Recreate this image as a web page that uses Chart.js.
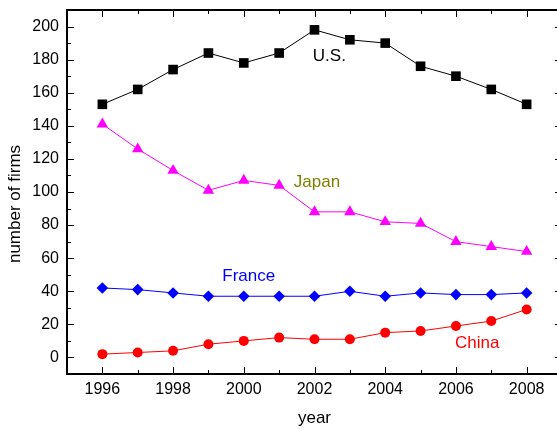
<!DOCTYPE html>
<html>
<head>
<meta charset="utf-8">
<script src="https://cdn.jsdelivr.net/npm/chart.js@4.4.0/dist/chart.umd.min.js"></script>
<style>
  html, body { margin: 0; padding: 0; background: #fff; overflow: hidden; }
</style>
</head>
<body>
<canvas id="chart" width="557" height="429"></canvas>
<script>
// datos
const years = [1996, 1997, 1998, 1999, 2000, 2001, 2002, 2003, 2004, 2005, 2006, 2007, 2008];
const us     = [153, 162, 174, 184, 178, 184, 198, 192, 190, 176, 170, 162, 153];
const japan  = [141, 126, 113, 101, 107, 104, 88, 88, 82, 81, 70, 67, 64];
const france = [42, 41, 39, 37, 37, 37, 37, 40, 37, 39, 38, 38, 39];
const china  = [2, 3, 4, 8, 10, 12, 11, 11, 15, 16, 19, 22, 29];

// etiquetas de cada serie (en coordenadas de datos)
const etiquetas = [
  { text: 'U.S.',   x: 2002.42, y: 182, color: '#000000' },
  { text: 'Japan',  x: 2002.07, y: 106, color: '#808000' },
  { text: 'France', x: 2000.14, y: 49,  color: '#0000ff' },
  { text: 'China',  x: 2006.6,  y: 8.5, color: '#ff0000' }
];

const fuente = '"Liberation Sans", Arial, sans-serif';

const toXY = vals => vals.map((v, i) => ({ x: years[i], y: v }));

// marco, marcas hacia adentro y textos
const marcoPlugin = {
  id: 'marco',
  afterLayout(chart) {
    // el borde derecho del original queda recortado fuera de la imagen
    const a = chart.chartArea;
    const x = chart.scales.x;
    a.right = 562;
    a.width = a.right - a.left;
    x.right = 562;
    x.width = x.right - x.left;
    x.configure();
  },
  beforeDatasetsDraw(chart) {
    const { ctx, chartArea: a, scales } = chart;
    ctx.save();
    ctx.strokeStyle = '#000';
    ctx.lineWidth = 1;
    for (let yr = 1995; yr <= 2009; yr++) {
      const px = Math.round(scales.x.getPixelForValue(yr)) + 0.5;
      const len = yr % 2 === 0 ? 7 : 4;
      ctx.beginPath();
      ctx.moveTo(px, a.bottom); ctx.lineTo(px, a.bottom - len);
      ctx.moveTo(px, a.top); ctx.lineTo(px, a.top + len);
      ctx.stroke();
    }
    for (let v = -10; v <= 210; v += 10) {
      const py = Math.round(scales.y.getPixelForValue(v)) + 0.5;
      const len = v % 20 === 0 ? 7 : 4;
      ctx.beginPath();
      ctx.moveTo(a.left, py); ctx.lineTo(a.left + len, py);
      ctx.moveTo(a.right, py); ctx.lineTo(a.right - len, py);
      ctx.stroke();
    }
    ctx.lineWidth = 2;
    ctx.strokeRect(a.left, a.top, a.right - a.left, a.bottom - a.top);
    ctx.restore();
  },
  afterDatasetsDraw(chart) {
    const { ctx, chartArea: a, scales } = chart;
    ctx.save();
    ctx.font = '17px ' + fuente;
    ctx.textAlign = 'center';
    ctx.textBaseline = 'middle';
    etiquetas.forEach(e => {
      ctx.fillStyle = e.color;
      ctx.fillText(e.text, scales.x.getPixelForValue(e.x), scales.y.getPixelForValue(e.y));
    });
    // titulos de los ejes
    ctx.fillStyle = '#000';
    ctx.fillText('year', (a.left + a.right) / 2, 418);
    ctx.translate(15, 204);
    ctx.rotate(-Math.PI / 2);
    ctx.fillText('number of firms', 0, 0);
    ctx.restore();
  }
};

const serie = (data, color, estilo, radio) => ({
  data: toXY(data),
  borderColor: color,
  backgroundColor: color,
  pointBackgroundColor: color,
  pointBorderColor: color,
  borderWidth: 1,
  pointStyle: estilo,
  pointRadius: radio,
  pointBorderWidth: 0,
  tension: 0
});

new Chart(document.getElementById('chart'), {
  type: 'line',
  data: {
    datasets: [
      serie(us, '#000000', 'rect', 6.8),
      serie(japan, '#ff00ff', 'triangle', 6.6),
      serie(france, '#0000ff', 'rectRot', 5.8),
      serie(china, '#ff0000', 'circle', 5)
    ]
  },
  options: {
    responsive: false,
    animation: false,
    layout: { padding: { top: 10, right: 0, left: 0, bottom: 0 } },
    plugins: {
      legend: { display: false },
      tooltip: { enabled: false }
    },
    scales: {
      x: {
        type: 'linear',
        min: 1995,
        max: 2009,
        grid: { display: false, drawTicks: false },
        border: { display: false },
        afterFit: s => { s.height = 55; s.paddingLeft = 0; s.paddingRight = 0; },
        ticks: {
          stepSize: 1,
          autoSkip: false,
          maxRotation: 0,
          padding: 6,
          color: '#000',
          font: { family: fuente, size: 16 },
          callback: v => (v % 2 === 0 ? String(v) : '')
        }
      },
      y: {
        min: -10,
        max: 210,
        grid: { display: false, drawTicks: false },
        border: { display: false },
        afterFit: s => { s.width = 67; s.paddingTop = 0; s.paddingBottom = 0; },
        ticks: {
          stepSize: 10,
          autoSkip: false,
          padding: 8,
          color: '#000',
          font: { family: fuente, size: 16 },
          callback: v => (v % 20 === 0 ? String(v) : '')
        }
      }
    }
  },
  plugins: [marcoPlugin]
});
</script>
</body>
</html>
